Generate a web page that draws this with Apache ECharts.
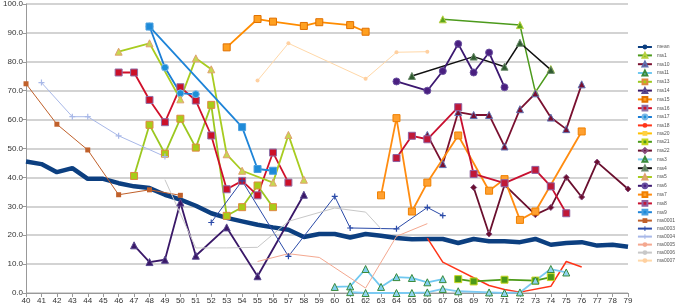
<!DOCTYPE html>
<html>
<head>
<meta charset="utf-8">
<script src="https://cdn.jsdelivr.net/npm/echarts@6/dist/echarts.min.js"></script>
<style>
  html, body { margin: 0; padding: 0; background: #fff; }
  #chart { width: 677px; height: 307px; }
</style>
</head>
<body>
<div id="chart"></div>
<script>
// each series: [age, value] pairs
var mean = [[40,45.5],[41,44.6],[42,41.8],[43,43.2],[44,39.5],[45,39.5],[46,38],[47,36.9],[48,36.3],[49,34],[50,32.3],[51,30.2],[52,27.6],[53,26],[54,24.8],[55,23.6],[56,22.7],[57,21.9],[58,19.4],[59,20.4],[60,20.4],[61,19.2],[62,20.4],[63,19.8],[64,19],[65,18.6],[66,18.7],[67,18.7],[68,17.3],[69,18.7],[70,17.9],[71,17.9],[72,17.6],[73,18.7],[74,16.7],[75,17.3],[76,17.6],[77,16.4],[78,16.7],[79,16]];
var ma1 = [[67,94.7],[72,92.7],[73,69.5],[74,77.5]];
var ma10 = [[66,54.7],[67,44.6],[68,62.6],[69,61.6],[70,61.6],[71,50.7],[72,63.6],[73,69.1],[74,60.7],[75,56.7],[76,72.2]];
var ma11 = [[60,2.1],[61,2.3],[62,8.3],[63,2.1],[64,5.5],[65,5.2],[66,3.7],[67,4.8]];
var ma13 = [[47,40.5],[48,58.2],[49,48.2],[50,60.3],[51,50.3],[52,65.1],[53,26.7],[54,29.7],[55,37.2],[56,29.7]];
var ma14 = [[47,16.5],[48,10.7],[49,11.5],[50,31.3],[51,12.9],[53,22.7],[55,5.8],[58,34]];
var ma15 = [[53,85],[55,94.8],[56,93.9],[58,92.4],[59,93.7],[61,92.7],[62,90.4]];
var ma16 = [[46,76.3],[47,76.3],[48,66.8],[49,59.1],[50,71.2],[51,66.6],[52,54.5],[53,35.9],[54,38.8],[55,33.8],[56,48.6],[57,38.2]];
var ma17 = [[48,92.2],[49,78],[50,69.1],[51,68.8]];
var ma18 = [[66,19],[67,10.7],[70,2.6],[71,1.2],[72,0.3],[74,2.3],[75,10.9],[76,9]];
var ma20 = [];
var ma21 = [[68,4.8],[69,4],[71,4.6],[73,4.3],[74,5.5]];
var ma22 = [[69,36.5],[70,20.4],[71,37.4],[73,27.1],[74,29.6],[75,40],[76,33.2],[77,45.3],[79,36]];
var ma3 = [[61,0.3],[62,0],[64,0],[65,0],[66,0.2],[67,1.4],[68,0.6],[70,0.2],[71,0],[72,0.2],[73,4.3],[74,8.3],[75,7.1]];
var ma4 = [[65,75.1],[69,81.8],[71,78.3],[72,86.6],[74,77.2]];
var ma5 = [[46,83.5],[48,86.4],[50,67],[51,81.2],[52,77.4],[53,48],[54,42.3],[56,38.2],[57,54.7],[58,39.2]];
var ma6 = [[64,73.2],[66,70],[67,76.8],[68,86.2],[69,76.3],[70,83.2],[71,71.2]];
var ma7 = [[63,33.8],[64,60.5],[65,28.2],[66,38.2],[68,54.5],[70,35.4],[71,39.4],[72,25.3],[73,28.2],[76,55.9]];
var ma8 = [[64,46.7],[65,54.4],[66,53.2],[68,64.3],[69,41.2],[71,38],[73,42.6],[74,36.9],[75,27.6]];
var ma9 = [[48,92.2],[54,57.4],[55,42.9],[56,42.3]];
var ma0001 = [[40,72.4],[42,58.4],[44,49.5],[46,34],[48,35.7],[50,33.8]];
var ma0003 = [[52,24.4],[54,38.8],[57,12.7],[60,33.4],[61,22.5],[64,22.2],[66,29.6],[67,26.8]];
var ma0004 = [[41,72.8],[43,61],[44,61],[46,54.4],[49,47.2]];
var ma0005 = [[55,10.9],[57,13.6],[59,12.3],[62,1.7],[64,19.6],[66,24]];
var ma0006 = [[49,39.2],[51,15.6],[53,15.6],[55,15.8],[57,24.8],[60,29.4],[62,28],[63,22.2]];
var ma0007 = [[55,73.5],[57,86.4],[62,74.1],[64,83.3],[66,83.5]];

var plus = 'path://M4,0H6V4H10V6H6V10H4V6H0V4H4Z';

var chart = echarts.init(document.getElementById('chart'));

function line(name, data, color, width, symbol, size, fill, border) {
  return {
    name: name,
    type: 'line',
    data: data,
    symbol: symbol,
    symbolSize: size,
    showSymbol: symbol !== 'none',
    lineStyle: { color: color, width: width },
    itemStyle: { color: fill || color, borderColor: border || fill || color, borderWidth: border ? 1 : 0 },
    emphasis: { disabled: true },
    animation: false
  };
}

var series = [
  line('mean', mean, '#0c3f80', 4.5, 'none', 0),
  line('ma1', ma1, '#4c9a1c', 1.5, 'triangle', 7, '#5aa51e', '#b8d040'),
  line('ma10', ma10, '#7a1030', 1.8, 'triangle', 7, '#7a1030', '#6070b0'),
  line('ma11', ma11, '#70c8f0', 1.8, 'triangle', 7, '#80d0f0', '#3a8a3a'),
  line('ma13', ma13, '#9cc820', 1.8, 'rect', 7, '#a8cc18', '#e08840'),
  line('ma14', ma14, '#3a1868', 1.8, 'triangle', 7, '#3a1868', '#5a4a90'),
  line('ma15', ma15, '#ff8c00', 1.8, 'rect', 7, '#ffa020', '#e07000'),
  line('ma16', ma16, '#d0102a', 1.8, 'rect', 7, '#cc1028', '#9070a8'),
  line('ma17', ma17, '#1c7ed6', 1.8, 'circle', 7, '#1c90d8', '#7cb8e8'),
  line('ma18', ma18, '#ff3418', 1.5, 'none', 0),
  line('ma20', ma20, '#ffc000', 1.5, 'rect', 6, '#ffd040'),
  line('ma21', ma21, '#4c9a18', 1.8, 'rect', 7, '#4c9a18', '#c8d820'),
  line('ma22', ma22, '#6a0f2e', 1.8, 'diamond', 6, '#6a0f2e', '#8a5080'),
  line('ma3', ma3, '#7ccaf2', 1.8, 'triangle', 7, '#90d4f0', '#3a8a3a'),
  line('ma4', ma4, '#111111', 1.5, 'triangle', 7, '#2e5a2e', '#6a8a6a'),
  line('ma5', ma5, '#a8cc20', 1.8, 'triangle', 7, '#c8d850', '#e0a070'),
  line('ma6', ma6, '#3c1870', 1.8, 'circle', 7, '#4a2080', '#6a50a0'),
  line('ma7', ma7, '#ff8c10', 1.8, 'rect', 7, '#ffa030', '#f08000'),
  line('ma8', ma8, '#c81030', 1.8, 'rect', 7, '#c01838', '#9060a0'),
  line('ma9', ma9, '#1e84d8', 1.8, 'rect', 7, '#1e8ad8', '#4aa0e0'),
  line('ma0001', ma0001, '#c0602a', 1, 'rect', 5, '#c0602a'),
  line('ma0003', ma0003, '#2a4aa8', 1, plus, 6, '#2a4aa8'),
  line('ma0004', ma0004, '#a8b8e8', 1, plus, 6, '#a8b8e8'),
  line('ma0005', ma0005, '#f4a890', 1, 'none', 0),
  line('ma0006', ma0006, '#c8c8c8', 1, 'none', 0),
  line('ma0007', ma0007, '#ffd8a8', 1, 'circle', 4, '#ffd0a0')
];

chart.setOption({
  backgroundColor: '#ffffff',
  textStyle: { fontFamily: 'Liberation Sans, Arial, sans-serif' },
  grid: { left: 25, right: 49, top: 4, bottom: 14 },
  legend: {
    orient: 'vertical',
    right: 2,
    top: 44,
    padding: 0,
    align: 'left',
    itemWidth: 14,
    itemHeight: 6,
    itemGap: 2,
    textStyle: { fontSize: 5, color: '#555', lineHeight: 6 },
    data: series.map(function (s) { return s.name; })
  },
  xAxis: {
    type: 'value',
    min: 40,
    max: 79,
    interval: 1,
    axisLine: { lineStyle: { color: '#999' } },
    axisTick: { length: 4, lineStyle: { color: '#999' } },
    axisLabel: { fontSize: 8, color: '#333', margin: 4 },
    splitLine: { show: false }
  },
  yAxis: {
    type: 'value',
    min: 0,
    max: 100,
    interval: 10,
    axisLine: { show: true, lineStyle: { color: '#999' } },
    axisTick: { show: true, length: 3, lineStyle: { color: '#999' } },
    axisLabel: {
      fontSize: 8, color: '#333', margin: 3,
      formatter: function (v) { return v.toFixed(1); }
    },
    splitLine: { lineStyle: { color: '#c4c4c4', width: 1.5 } }
  },
  series: series
});

window.addEventListener('resize', function () {
  chart.resize();
});
</script>
</body>
</html>
